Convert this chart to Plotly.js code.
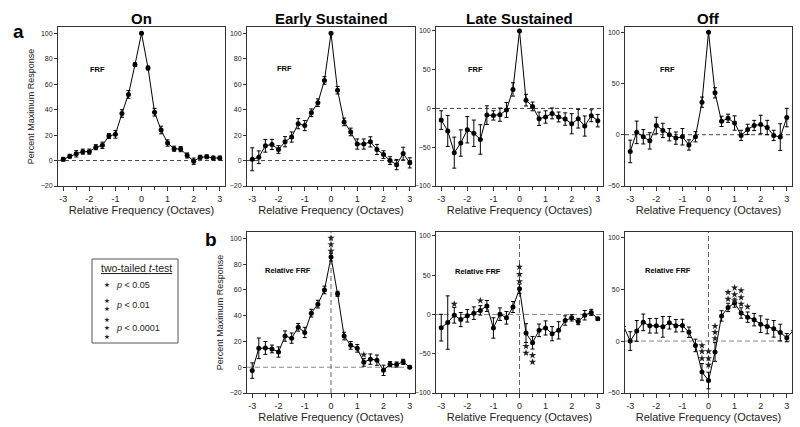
<!DOCTYPE html>
<html>
<head>
<meta charset="utf-8">
<script src="https://cdn.plot.ly/plotly-3.0.1.min.js"></script>
<style>html,body{margin:0;padding:0;background:#fff;}#chart{width:800px;height:427px;}</style>
</head>
<body>
<div id="chart"></div>
<script>
// ---------- data ----------
const octaves = [-3,-2.75,-2.5,-2.25,-2,-1.75,-1.5,-1.25,-1,-0.75,-0.5,-0.25,0,0.25,0.5,0.75,1,1.25,1.5,1.75,2,2.25,2.5,2.75,3];
const octavesExt = [-3.25,-3,-2.75,-2.5,-2.25,-2,-1.75,-1.5,-1.25,-1,-0.75,-0.5,-0.25,0,0.25,0.5,0.75,1,1.25,1.5,1.75,2,2.25,2.5,2.75,3,3.25];
const xTickVals = [-3,-2,-1,0,1,2,3];
const xTickText = ['-3','-2','-1','0','1','2','3'];

const onFRF      = [1,3.4,5.3,7,7,10.5,12,19.3,20.6,37,52,75.4,100,72.8,38,24,13.8,9.3,9,4,-0.5,2.6,3,2,2];
const onErr      = [1.5,1.5,2.5,2,2,2,2.5,2,3,3,3,1.5,0,1.5,3,3,2.5,2,2,2,2.5,1.5,1.5,1.5,1.5];
const earlyFRF   = [1,2.6,11.6,12.7,8.7,14.8,18.5,29,27.5,37.6,45.5,63,100,55.3,30.4,22.5,13,13,14.7,8.7,4.7,0,-3.2,5.5,-1.8];
const earlyErr   = [9,5,5,4,3,4,4,4,4,3,3,3,0,3,3,3,4,4,4,4,3,3,4,5,4];
const lateFRF    = [-15,-29,-57,-44.6,-27.5,-32,-40,-8.6,-9,-8,-2,24.5,100,10.7,2.6,-13.3,-11,-6.4,-11,-13.7,-19.7,-13.3,-22.7,-9.4,-15.8];
const lateErr    = [12,20,20,17,17,17,19,12,6,8.5,9.6,8.6,0,7.5,5.6,8.6,8,7,6.4,8,13,12,13,7.7,8];
const offFRF     = [-16.3,2.3,-2,-6,9,4.2,0,-3.3,-2,-10,-2,31.7,100,40.8,13,16,11.4,-0.7,5.2,9,10,7,-0.7,-2.3,16.7];
const offErr     = [11,11,7,8,8,7,6,6,8,5,5,5,0,5,5,4,7,5,5,5,9,7,5,13,9];

const relEarly    = [-2.6,14.7,15,14.2,11.8,24.2,22.6,31,27,42,49,60,85.5,57,24.2,17,14.7,3.8,6.3,5.5,-2.4,2.4,2.1,4.2,0];
const relEarlyErr = [6,8,5,3,4,4,4,3,4,3,3,3,3,2,3,3,3,3,4,4,4,2,2,2,1];
const relLate     = [-16.8,-10.3,-1,-6.5,-1.7,1.7,5.2,10.8,-17.2,0.4,-4.3,9.5,32.7,-23.7,-36,-20.2,-17.2,-24.5,-20.2,-7.7,-4.3,-9,-1,2.6,-5.5];
const relLateErr  = [17,34,10,9,8,8,6,7,13,8,8,7,6,12,8,8,9,9,11,6,4,4,6,4,2];
const relOff      = [14,0,9.8,18,14.7,14.7,13.7,17.6,14.7,15,8.5,-4.2,-29.7,-38,-10.5,24.2,32.4,36.6,27,23,20.6,16.3,14,11.8,8.2,3.3,10];
const relOffErr   = [0,9,10,8,7,7,10,6,6,6,5,6,8,8,9,5,4,4,5,5,6,8,7,8,8,4,0];

// significance stars (x, y)
const starsEarlyX = [0,0,0,1.25];
const starsEarlyY = [100.3,95.4,90.2,9.7];
const starsLateX  = [-2.5,-1.5,0,0,0,0.25,0.25,0.5,0.5];
const starsLateY  = [13.3,17.6,60.6,51.2,42.2,-40.4,-49,-52,-60.6];
const starsOffX   = [-0.25,-0.25,-0.25,0,0,0,0.25,0.25,0.25,0.75,0.75,1,1,1,1.25,1.25,1.25,1.5];
const starsOffY   = [-4.2,-10,-16.7,-10,-16.7,-23,14.4,8.5,2.6,47,40.5,51.3,44.8,38.9,48.7,42,35.7,33];

const panelTitles = ['On','Early Sustained','Late Sustained','Off'];
const keyLabels = ['<i>p</i> < 0.05', '<i>p</i> < 0.01', '<i>p</i> < 0.0001'];
const keyStarCounts = [1, 2, 3];

// ---------- helpers ----------
const FONT = 'Liberation Sans, Arial, Helvetica, sans-serif';
const W = 800, H = 427;
const px = v => v / W;
const py = v => 1 - v / H;

function series(xa, ya, x, y, err) {
  return {
    type: 'scatter', mode: 'lines+markers', xaxis: xa, yaxis: ya,
    x: x, y: y,
    line: {color: '#000', width: 1},
    marker: {color: '#000', size: 5},
    error_y: {type: 'data', array: err, visible: true, color: '#000', thickness: 1, width: 2},
    hoverinfo: 'x+y'
  };
}
function stars(xa, ya, x, y) {
  return {
    type: 'scatter', mode: 'markers', xaxis: xa, yaxis: ya, x: x, y: y,
    marker: {symbol: 'star', size: 5.5, color: '#222', line: {width: 0}},
    hoverinfo: 'skip', cliponaxis: false
  };
}

const traces = [
  series('x', 'y', octaves, onFRF, onErr),
  series('x2', 'y2', octaves, earlyFRF, earlyErr),
  series('x3', 'y3', octaves, lateFRF, lateErr),
  series('x4', 'y4', octaves, offFRF, offErr),
  series('x5', 'y5', octaves, relEarly, relEarlyErr),
  series('x6', 'y6', octaves, relLate, relLateErr),
  series('x7', 'y7', octavesExt, relOff, relOffErr),
  stars('x5', 'y5', starsEarlyX, starsEarlyY),
  stars('x6', 'y6', starsLateX, starsLateY),
  stars('x7', 'y7', starsOffX, starsOffY)
];

const colDom = [[58,225],[247,415],[436,603],[625,792]];
const topDom = [py(186), py(27)];
const botDom = [py(393), py(232)];

function xAxis(col, anchor) {
  return {
    domain: [px(colDom[col][0]), px(colDom[col][1])], anchor: anchor,
    range: [-3.2, 3.2], tickmode: 'array', tickvals: xTickVals, ticktext: xTickText,
    ticks: 'outside', ticklen: 4, tickcolor: '#333', tickwidth: 1,
    minor: {tickmode: 'linear', tick0: 0, dtick: 0.5, ticks: 'outside', ticklen: 3, tickcolor: '#333'},
    showline: true, mirror: true, linecolor: '#333', linewidth: 1,
    showgrid: false, zeroline: false,
    tickfont: {family: FONT, size: 9, color: '#222'},
    title: {text: 'Relative Frequency (Octaves)', font: {family: FONT, size: 11, color: '#222'}, standoff: 3}
  };
}
function yAxis(dom, anchor, range, vals, title) {
  return {
    domain: dom, anchor: anchor, range: range, tickmode: 'array', tickvals: vals,
    ticks: 'outside', ticklen: 3, tickcolor: '#333',
    showline: true, mirror: true, linecolor: '#333', linewidth: 1,
    showgrid: false, zeroline: false,
    tickfont: {family: FONT, size: 7, color: '#222'},
    title: title ? {text: title, font: {family: FONT, size: 9, color: '#222'}, standoff: 4} : {text: ''}
  };
}
const y20 = [-20,0,20,40,60,80,100];
const y100 = [-100,-50,0,50,100];
const y50 = [-50,0,50,100];

const layout = {
  width: W, height: H, margin: {l: 0, r: 0, t: 0, b: 0},
  paper_bgcolor: '#fff', plot_bgcolor: '#fff', showlegend: false,
  font: {family: FONT, color: '#222'},
  xaxis: xAxis(0, 'y'), yaxis: yAxis(topDom, 'x', [-20, 105], y20, 'Percent Maximum Response'),
  xaxis2: xAxis(1, 'y2'), yaxis2: yAxis(topDom, 'x2', [-20, 105], y20, null),
  xaxis3: xAxis(2, 'y3'), yaxis3: yAxis(topDom, 'x3', [-100, 105], y100, null),
  xaxis4: xAxis(3, 'y4'), yaxis4: yAxis(topDom, 'x4', [-50, 105], y50, null),
  xaxis5: xAxis(1, 'y5'), yaxis5: yAxis(botDom, 'x5', [-20, 105], y20, 'Percent Maximum Response'),
  xaxis6: xAxis(2, 'y6'), yaxis6: yAxis(botDom, 'x6', [-100, 105], y100, null),
  xaxis7: xAxis(3, 'y7'), yaxis7: yAxis(botDom, 'x7', [-50, 105], y50, null),
  shapes: [],
  annotations: []
};

// zero reference lines
const topAx = [['x','y'],['x2','y2'],['x3','y3'],['x4','y4']];
const botAx = [['x5','y5'],['x6','y6'],['x7','y7']];
topAx.forEach(([xa, ya]) => layout.shapes.push({type: 'line', xref: xa + ' domain', yref: ya, x0: 0, x1: 1, y0: 0, y1: 0, line: {color: '#444', width: 1, dash: '4px,3px'}, layer: 'below'}));
botAx.forEach(([xa, ya]) => {
  layout.shapes.push({type: 'line', xref: xa + ' domain', yref: ya, x0: 0, x1: 1, y0: 0, y1: 0, line: {color: '#888', width: 1, dash: '5px,3px'}, layer: 'below'});
  layout.shapes.push({type: 'line', xref: xa, yref: ya + ' domain', x0: 0, x1: 0, y0: 0, y1: 1, line: {color: '#666', width: 1, dash: '5px,3px'}, layer: 'below'});
});

// panel titles
topAx.forEach(([xa], i) => layout.annotations.push({
  text: '<b>' + panelTitles[i] + '</b>', xref: xa + ' domain', yref: 'paper', x: 0.5, y: py(18.5),
  xanchor: 'center', yanchor: 'middle', showarrow: false, font: {family: FONT, size: 15, color: '#000'}
}));
// panel letters
layout.annotations.push({text: '<b>a</b>', xref: 'paper', yref: 'paper', x: px(18), y: py(32), xanchor: 'center', yanchor: 'middle', showarrow: false, font: {family: FONT, size: 19, color: '#000'}});
layout.annotations.push({text: '<b>b</b>', xref: 'paper', yref: 'paper', x: px(211), y: py(240), xanchor: 'center', yanchor: 'middle', showarrow: false, font: {family: FONT, size: 19, color: '#000'}});

// in-panel labels
const frfPos = [['x','y',-1.68,71.5],['x2','y2',-1.76,72],['x3','y3',-1.68,50],['x4','y4',-1.56,64]];
frfPos.forEach(([xa, ya, x, y]) => layout.annotations.push({text: '<b>FRF</b>', xref: xa, yref: ya, x: x, y: y, showarrow: false, xanchor: 'center', yanchor: 'middle', font: {family: FONT, size: 7.5, color: '#000'}}));
const relPos = [['x5','y5',-1.64,75.5],['x6','y6',-1.6,55],['x7','y7',-1.56,68]];
relPos.forEach(([xa, ya, x, y]) => layout.annotations.push({text: '<b>Relative FRF</b>', xref: xa, yref: ya, x: x, y: y, showarrow: false, xanchor: 'center', yanchor: 'middle', font: {family: FONT, size: 7.5, color: '#000'}}));

// significance key box
layout.shapes.push({type: 'rect', xref: 'paper', yref: 'paper', x0: px(92), x1: px(178), y0: py(343), y1: py(259), line: {color: '#555', width: 1}, fillcolor: 'rgba(0,0,0,0)'});
const keyFont = {family: FONT, size: 9, color: '#222'};
layout.annotations.push({text: '<u>two-tailed <i>t</i>-test</u>', xref: 'paper', yref: 'paper', x: px(136), y: py(268), xanchor: 'center', yanchor: 'middle', showarrow: false, font: {family: FONT, size: 10.5, color: '#222'}});
const keyRowY = [285, 305, 328];
keyLabels.forEach((label, i) => {
  layout.annotations.push({text: label, xref: 'paper', yref: 'paper', x: px(114), y: py(keyRowY[i]), xanchor: 'left', yanchor: 'middle', showarrow: false, font: keyFont});
  const st = Array(keyStarCounts[i]).fill('★').join('<br>');
  layout.annotations.push({text: st, xref: 'paper', yref: 'paper', x: px(107), y: py(keyRowY[i]), xanchor: 'center', yanchor: 'middle', showarrow: false, font: {family: 'DejaVu Sans', size: 6.5, color: '#222'}});
});

Plotly.newPlot('chart', traces, layout, {displayModeBar: false, staticPlot: true});
</script>
</body>
</html>
